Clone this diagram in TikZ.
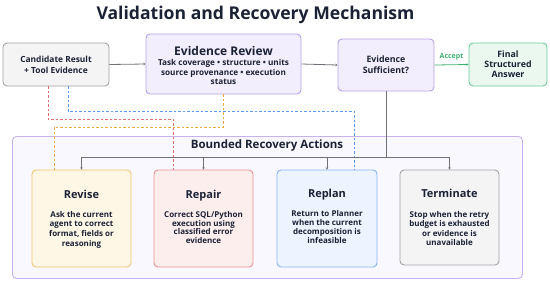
\documentclass[tikz,border=0pt]{standalone}
\usepackage{fontspec}
\setmainfont{Open Sans}
\usetikzlibrary{arrows.meta}
\definecolor{navy}{HTML}{1C2236}
\definecolor{greyfill}{HTML}{F4F4F5}
\definecolor{greydraw}{HTML}{A3A3A8}
\definecolor{lavfill}{HTML}{F3EEFD}
\definecolor{lavdraw}{HTML}{B9A1E8}
\definecolor{contfill}{HTML}{F9F8FE}
\definecolor{contdraw}{HTML}{C6B3EE}
\definecolor{grnfill}{HTML}{EAF8F0}
\definecolor{grndraw}{HTML}{6CCB98}
\definecolor{grntext}{HTML}{3DB072}
\definecolor{orgfill}{HTML}{FEF7E6}
\definecolor{orgdraw}{HTML}{F3C46E}
\definecolor{orgdash}{HTML}{F0A940}
\definecolor{redfill}{HTML}{FDEEEE}
\definecolor{reddraw}{HTML}{E99292}
\definecolor{reddash}{HTML}{E07070}
\definecolor{blufill}{HTML}{EBF4FF}
\definecolor{bludraw}{HTML}{86B4F2}
\definecolor{bludash}{HTML}{5B9AF0}
\definecolor{lineg}{HTML}{707078}
\tikzset{
  box/.style={rectangle, rounded corners=4pt, line width=0.9pt, inner sep=0pt},
  txt/.style={align=center, text=navy, inner sep=0pt},
  acttitle/.style={txt, font=\bfseries\fontsize{11}{13}\selectfont},
  actbody/.style={txt, font=\bfseries\fontsize{8}{9.4}\selectfont},
  conn/.style={draw=lineg, line width=0.8pt},
  arr/.style={conn, -{Stealth[length=2.2pt,width=2.6pt]}},
  dashln/.style={line width=0.8pt, dash pattern=on 2.5pt off 2pt},
}
\begin{document}
\begin{tikzpicture}[x=1pt,y=-1pt]
\useasboundingbox (0,0) rectangle (550,282);
\node[txt, font=\bfseries\fontsize{17.6}{20}\selectfont] (title) at (255.5,15) {Validation and Recovery Mechanism};

% container
\node[box, draw=contdraw, fill=contfill, minimum width=510pt, minimum height=142pt, anchor=north west] (cont) at (12,136) {};
\node[txt, font=\bfseries\fontsize{11.5}{13}\selectfont] (conttitle) at (267,146) {Bounded Recovery Actions};

% top row
\node[box, draw=greydraw, fill=greyfill, minimum width=106pt, minimum height=43pt] (cand) at (56,64.5) {};
\node[txt, font=\bfseries\fontsize{8.4}{11}\selectfont] (candt) at (56,64.5) {Candidate Result\\+ Tool Evidence};
\node[box, draw=lavdraw, fill=lavfill, minimum width=155pt, minimum height=60pt] (er) at (223.5,64) {};
\node[txt, font=\bfseries\fontsize{12}{14}\selectfont] (ert) at (223.5,51) {Evidence Review};
\node[txt, font=\bfseries\fontsize{8.2}{9.2}\selectfont] (erb) at (223.5,72) {Task coverage • structure • units\\source provenance • execution\\status};
\node[box, draw=lavdraw, fill=lavfill, minimum width=96pt, minimum height=52pt] (es) at (386,65) {};
\node[txt, font=\bfseries\fontsize{8.8}{11}\selectfont] (est) at (386,64.5) {Evidence\\Sufficient?};
\node[box, draw=grndraw, fill=grnfill, minimum width=78pt, minimum height=43pt] (final) at (508,64.5) {};
\node[txt, font=\bfseries\fontsize{8.8}{10}\selectfont] (finalt) at (508,64) {Final\\Structured\\Answer};

\coordinate (rj) at (173,119);
\coordinate (bj) at (354,111);
\coordinate (oj) at (54,127);

% action boxes
\node[box, draw=orgdraw, fill=orgfill, minimum width=99pt, minimum height=97pt] (revise) at (81.5,218.5) {};
\node[acttitle] (reviset) at (81.5,194) {Revise};
\node[actbody, font=\bfseries\fontsize{8}{9.7}\selectfont] (reviseb) at (81.5,229.5) {Ask the current\\agent to correct\\format, fields or\\reasoning};
\node[box, draw=reddraw, fill=redfill, minimum width=99pt, minimum height=97pt] (repair) at (203.5,218.5) {};
\node[acttitle] (repairt) at (203.5,195.5) {Repair};
\node[actbody, font=\bfseries\fontsize{8}{8.6}\selectfont] (repairb) at (203.5,227.5) {Correct SQL/Python\\execution using\\classified error\\evidence};
\node[box, draw=bludraw, fill=blufill, minimum width=100pt, minimum height=97pt] (replan) at (327,218.5) {};
\node[acttitle] (replant) at (327,195) {Replan};
\node[actbody, font=\bfseries\fontsize{8}{8.7}\selectfont] (replanb) at (327,227) {Return to Planner\\when the current\\decomposition is\\infeasible};
\node[box, draw=greydraw, fill=greyfill, minimum width=99pt, minimum height=95pt] (term) at (449.5,217.5) {};
\node[acttitle] (termt) at (449.5,193) {Terminate};
\node[actbody, font=\bfseries\fontsize{8}{9.5}\selectfont] (termb) at (449.5,228.5) {Stop when the retry\\budget is exhausted\\or evidence is\\unavailable};

\draw[dashln, draw=reddash] ([xshift=-8pt]cand.south) |- (rj) -- (rj |- repair.north);
\draw[dashln, draw=bludash] ([xshift=12pt]cand.south) |- (bj) -- (bj |- replan.north);
\draw[dashln, draw=orgdash] (er.south) |- (oj) -- (oj |- revise.north);

% solid connectors
\draw[arr] (cand.east) -- (er.west);
\draw[arr] (er.east) -- (es.west);
\draw[draw=grntext, line width=0.8pt, -{Stealth[length=2.2pt,width=2.6pt]}] (es.east) -- node[above=1pt, text=grntext, font=\bfseries\fontsize{7}{8}\selectfont] (acc) {Accept} (final.west);
\coordinate (bus) at (386,157);
\draw[conn] (es.south) -- (bus);
\draw[conn] (revise.north |- bus) -- (term.north |- bus);
\draw[arr] (revise.north |- bus) -- (revise.north);
\draw[arr] (repair.north |- bus) -- (repair.north);
\draw[arr] (replan.north |- bus) -- (replan.north);
\draw[arr] (term.north |- bus) -- (term.north);
\end{tikzpicture}
\end{document}
